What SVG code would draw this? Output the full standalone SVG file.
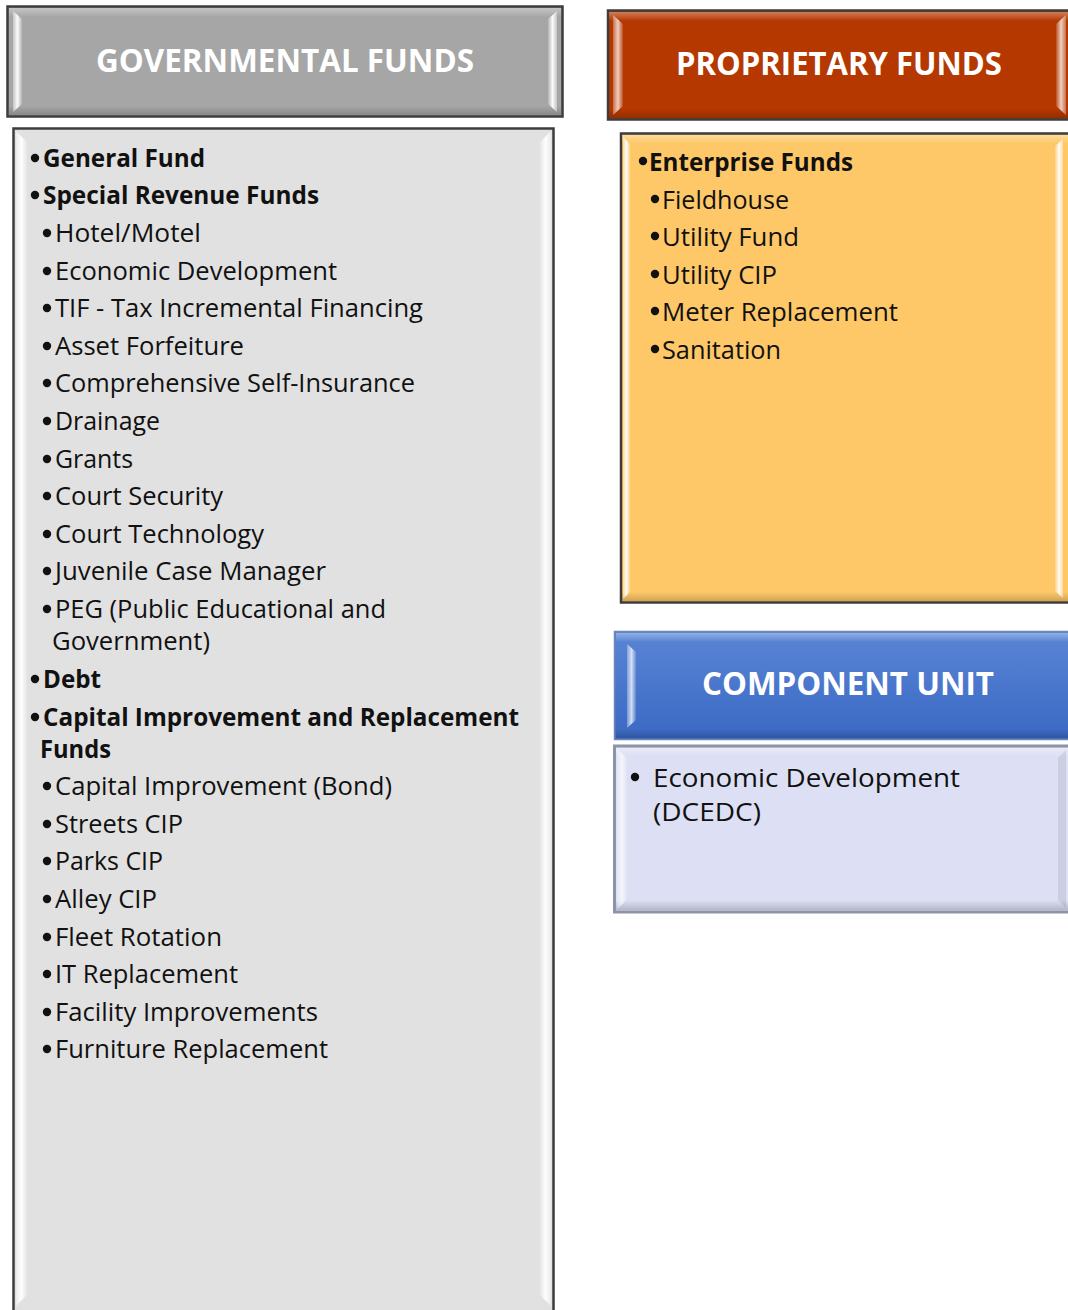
<svg xmlns="http://www.w3.org/2000/svg" width="1068" height="1310" viewBox="0 0 1068 1310">
<defs>
<linearGradient id="hlL" x1="0" y1="0" x2="1" y2="0"><stop offset="0" stop-color="#fff" stop-opacity="0.35"/><stop offset="0.5" stop-color="#fff" stop-opacity="0.95"/><stop offset="1" stop-color="#fff" stop-opacity="0.15"/></linearGradient>
<linearGradient id="hlR" x1="0" y1="0" x2="1" y2="0"><stop offset="0" stop-color="#fff" stop-opacity="0.15"/><stop offset="0.5" stop-color="#fff" stop-opacity="0.95"/><stop offset="1" stop-color="#fff" stop-opacity="0.35"/></linearGradient>
<linearGradient id="topB" x1="0" y1="0" x2="0" y2="1"><stop offset="0" stop-color="#fff" stop-opacity="0.35"/><stop offset="1" stop-color="#fff" stop-opacity="0"/></linearGradient>
<linearGradient id="botB" x1="0" y1="0" x2="0" y2="1"><stop offset="0" stop-color="#000" stop-opacity="0"/><stop offset="1" stop-color="#000" stop-opacity="0.18"/></linearGradient>
<linearGradient id="blue" x1="0" y1="0" x2="0" y2="1"><stop offset="0" stop-color="#5a85d6"/><stop offset="1" stop-color="#3a68c3"/></linearGradient>
</defs>
<style>
.hd{font-family:"Open Sans","Noto Sans",sans-serif;font-weight:bold;font-size:32px;fill:#fff;text-anchor:middle}
.t{font-family:"Open Sans","Noto Sans",sans-serif;font-size:25px;fill:#111}
.b{font-weight:bold}
.box{stroke:#3c3c3c;stroke-width:2.5}
.dot{fill:#111}
.dot circle{r:4.2px}
</style>

<g id="governmental-header">
<rect class="box" x="7.5" y="6.5" width="555" height="110" fill="#a6a6a6"/>
<rect x="9" y="8" width="552" height="9" fill="url(#topB)"/>
<rect x="9" y="106" width="552" height="9" fill="url(#botB)"/>
<polygon points="13,11 22,19 22,104 13,112" fill="url(#hlL)"/>
<polygon points="548,19 557,11 557,112 548,104" fill="url(#hlR)"/>
<text class="hd" x="285" y="72" textLength="378" lengthAdjust="spacingAndGlyphs">GOVERNMENTAL FUNDS</text>
</g>

<g id="governmental-body">
<rect class="box" x="13.5" y="128.5" width="540" height="1200" fill="#e1e1e1"/>
<polygon points="16,131 27,142 27,1295 16,1306" fill="url(#hlL)"/>
<polygon points="540,142 551,131 551,1306 540,1295" fill="url(#hlR)"/>
<g class="dot">
<circle cx="35" cy="158" r="4.2"/><circle cx="35" cy="195" r="4.2"/>
<circle cx="47" cy="233" r="4.2"/><circle cx="47" cy="271" r="4.2"/><circle cx="47" cy="308" r="4.2"/>
<circle cx="47" cy="346" r="4.2"/><circle cx="47" cy="383" r="4.2"/><circle cx="47" cy="421" r="4.2"/>
<circle cx="47" cy="459" r="4.2"/><circle cx="47" cy="496" r="4.2"/><circle cx="47" cy="534" r="4.2"/>
<circle cx="47" cy="571" r="4.2"/><circle cx="47" cy="609" r="4.2"/>
<circle cx="35" cy="679" r="4.2"/><circle cx="35" cy="717" r="4.2"/>
<circle cx="47" cy="786" r="4.2"/><circle cx="47" cy="824" r="4.2"/><circle cx="47" cy="861" r="4.2"/>
<circle cx="47" cy="899" r="4.2"/><circle cx="47" cy="937" r="4.2"/><circle cx="47" cy="974" r="4.2"/>
<circle cx="47" cy="1012" r="4.2"/><circle cx="47" cy="1049" r="4.2"/>
</g>
<text class="t b" x="43" y="167" textLength="162" lengthAdjust="spacingAndGlyphs">General Fund</text>
<text class="t b" x="43" y="204" textLength="276" lengthAdjust="spacingAndGlyphs">Special Revenue Funds</text>
<text class="t" x="55" y="242" textLength="146" lengthAdjust="spacingAndGlyphs">Hotel/Motel</text>
<text class="t" x="55" y="280" textLength="282" lengthAdjust="spacingAndGlyphs">Economic Development</text>
<text class="t" x="55" y="317" textLength="368" lengthAdjust="spacingAndGlyphs">TIF - Tax Incremental Financing</text>
<text class="t" x="55" y="355" textLength="189" lengthAdjust="spacingAndGlyphs">Asset Forfeiture</text>
<text class="t" x="55" y="392" textLength="360" lengthAdjust="spacingAndGlyphs">Comprehensive Self-Insurance</text>
<text class="t" x="55" y="430" textLength="105" lengthAdjust="spacingAndGlyphs">Drainage</text>
<text class="t" x="55" y="468" textLength="78" lengthAdjust="spacingAndGlyphs">Grants</text>
<text class="t" x="55" y="505" textLength="168" lengthAdjust="spacingAndGlyphs">Court Security</text>
<text class="t" x="55" y="543" textLength="209" lengthAdjust="spacingAndGlyphs">Court Technology</text>
<text class="t" x="55" y="580" textLength="271" lengthAdjust="spacingAndGlyphs">Juvenile Case Manager</text>
<text class="t" x="55" y="618" textLength="331" lengthAdjust="spacingAndGlyphs">PEG (Public Educational and</text>
<text class="t" x="52" y="650" textLength="158" lengthAdjust="spacingAndGlyphs">Government)</text>
<text class="t b" x="43" y="688" textLength="58" lengthAdjust="spacingAndGlyphs">Debt</text>
<text class="t b" x="43" y="726" textLength="476" lengthAdjust="spacingAndGlyphs">Capital Improvement and Replacement</text>
<text class="t b" x="40" y="758" textLength="71" lengthAdjust="spacingAndGlyphs">Funds</text>
<text class="t" x="55" y="795" textLength="337" lengthAdjust="spacingAndGlyphs">Capital Improvement (Bond)</text>
<text class="t" x="55" y="833" textLength="128" lengthAdjust="spacingAndGlyphs">Streets CIP</text>
<text class="t" x="55" y="870" textLength="108" lengthAdjust="spacingAndGlyphs">Parks CIP</text>
<text class="t" x="55" y="908" textLength="102" lengthAdjust="spacingAndGlyphs">Alley CIP</text>
<text class="t" x="55" y="946" textLength="167" lengthAdjust="spacingAndGlyphs">Fleet Rotation</text>
<text class="t" x="55" y="983" textLength="183" lengthAdjust="spacingAndGlyphs">IT Replacement</text>
<text class="t" x="55" y="1021" textLength="263" lengthAdjust="spacingAndGlyphs">Facility Improvements</text>
<text class="t" x="55" y="1058" textLength="273" lengthAdjust="spacingAndGlyphs">Furniture Replacement</text>
</g>

<g id="proprietary-header">
<rect class="box" x="608" y="10.5" width="480" height="109" fill="#b53800"/>
<rect x="609" y="12" width="470" height="9" fill="url(#topB)"/>
<rect x="609" y="109" width="470" height="9" fill="url(#botB)"/>
<polygon points="613,15 623,24 623,106 613,115" fill="url(#hlL)" opacity="0.8"/>
<polygon points="1056,24 1066,15 1066,115 1056,106" fill="url(#hlR)" opacity="0.8"/>
<text class="hd" x="839" y="75" textLength="326" lengthAdjust="spacingAndGlyphs">PROPRIETARY FUNDS</text>
</g>

<g id="proprietary-body">
<rect class="box" x="621" y="133.5" width="470" height="469" fill="#fec868"/>
<rect x="622" y="135" width="460" height="8" fill="url(#topB)"/>
<rect x="622" y="592" width="460" height="9" fill="url(#botB)"/>
<polygon points="623,137 630,144 630,592 623,599" fill="url(#hlL)"/>
<polygon points="1055,146 1063,139 1063,598 1055,591" fill="url(#hlR)"/>
<g class="dot">
<circle cx="643" cy="161" r="4.2"/>
<circle cx="655" cy="199" r="4.2"/><circle cx="655" cy="236" r="4.2"/><circle cx="655" cy="274" r="4.2"/>
<circle cx="655" cy="311" r="4.2"/><circle cx="655" cy="349" r="4.2"/>
</g>
<text class="t b" x="649" y="171" textLength="204" lengthAdjust="spacingAndGlyphs">Enterprise Funds</text>
<text class="t" x="662" y="209" textLength="127" lengthAdjust="spacingAndGlyphs">Fieldhouse</text>
<text class="t" x="662" y="246" textLength="137" lengthAdjust="spacingAndGlyphs">Utility Fund</text>
<text class="t" x="662" y="284" textLength="115" lengthAdjust="spacingAndGlyphs">Utility CIP</text>
<text class="t" x="662" y="321" textLength="236" lengthAdjust="spacingAndGlyphs">Meter Replacement</text>
<text class="t" x="662" y="359" textLength="119" lengthAdjust="spacingAndGlyphs">Sanitation</text>
</g>

<g id="component-header">
<rect x="614.5" y="631.5" width="470" height="108" fill="url(#blue)" stroke="#6f86b2" stroke-width="1.5"/>
<rect x="616" y="633" width="460" height="9" fill="url(#topB)"/>
<rect x="616" y="729" width="460" height="9" fill="url(#botB)"/>
<polygon points="627,644 636,652 636,720 627,728" fill="url(#hlL)" opacity="0.8"/>
<text class="hd" x="848" y="695" textLength="292" lengthAdjust="spacingAndGlyphs">COMPONENT UNIT</text>
</g>

<g id="component-body">
<rect x="614.5" y="746" width="470" height="166" fill="#dde0f4" stroke="#8d94a8" stroke-width="3"/>
<rect x="616" y="748" width="460" height="8" fill="url(#topB)"/>
<rect x="616" y="900" width="460" height="10" fill="url(#botB)"/>
<polygon points="617,749 627,758 627,900 617,909" fill="url(#hlL)" opacity="0.7"/>
<polygon points="1058,758 1066,750 1066,908 1058,900" fill="#000" opacity="0.08"/>
<circle class="dot" cx="635" cy="777" r="4.2"/>
<text class="t" x="653" y="787" font-size="27" textLength="307" lengthAdjust="spacingAndGlyphs">Economic Development</text>
<text class="t" x="653" y="821" font-size="27" textLength="108" lengthAdjust="spacingAndGlyphs">(DCEDC)</text>
</g>
</svg>
